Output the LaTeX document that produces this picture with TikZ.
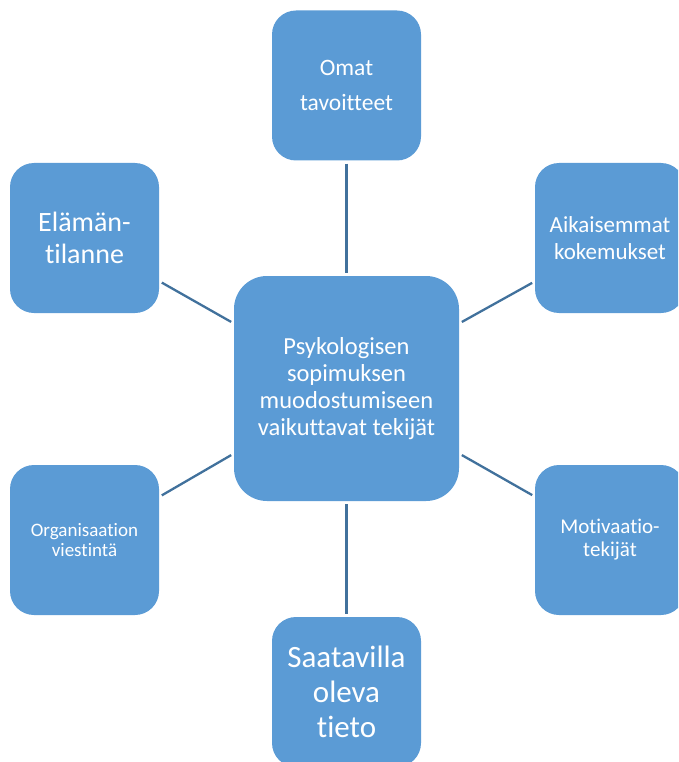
\documentclass[tikz,border=0pt]{standalone}
\usepackage{fontspec}
\setmainfont{Carlito}[Ligatures=NoCommon]
\definecolor{boxblue}{HTML}{5B9BD5}
\definecolor{linkblue}{HTML}{41719C}
\begin{document}
\begin{tikzpicture}[x=1pt,y=-1pt,
  factor/.style={fill=boxblue, rounded corners=24pt, minimum width=149pt,
    minimum height=150pt, inner sep=0pt, align=center, text=white},
  link/.style={draw=linkblue, line width=2.3pt, shorten <=3pt, shorten >=3pt}]
\useasboundingbox (0,0) rectangle (678,762);
\clip (0,0) rectangle (678,762);
% central theme
\node[factor, minimum width=225pt, minimum height=225pt, rounded corners=33pt,
  font=\fontsize{24.5}{27}\selectfont] (c) at (346.5,388.5)
  {Psykologisen\\sopimuksen\\muodostumiseen\\vaikuttavat tekijät};
% surrounding factors
\node[factor, font=\fontsize{23.5}{35}\selectfont] (t) at (346.5,85.5) {Omat\\tavoitteet};
\node[factor, minimum width=150pt, font=\fontsize{23}{27}\selectfont] (rt) at (610,238) {Aikaisemmat\\kokemukset};
\node[factor, minimum width=150pt, font=\fontsize{21}{23}\selectfont] (rb) at (610,540) {Motivaatio-\\tekijät};
\node[factor, font=\fontsize{31}{35}\selectfont] (b) at (346.5,692) {Saatavilla\\oleva\\tieto};
\node[factor, font=\fontsize{19}{20}\selectfont] (lb) at (84.5,540) {Organisaation\\viestintä};
\node[factor, font=\fontsize{28}{32}\selectfont] (lt) at (84.5,238) {Elämän-\\tilanne};
% connectors
\draw[link] (t) -- (c);
\draw[link] (c) -- (b);
\draw[link] (c.150) -- (lt.-30);
\draw[link] (c.30) -- (rt.210);
\draw[link] (c.210) -- (lb.30);
\draw[link] (c.-30) -- (rb.150);
\end{tikzpicture}
\end{document}
